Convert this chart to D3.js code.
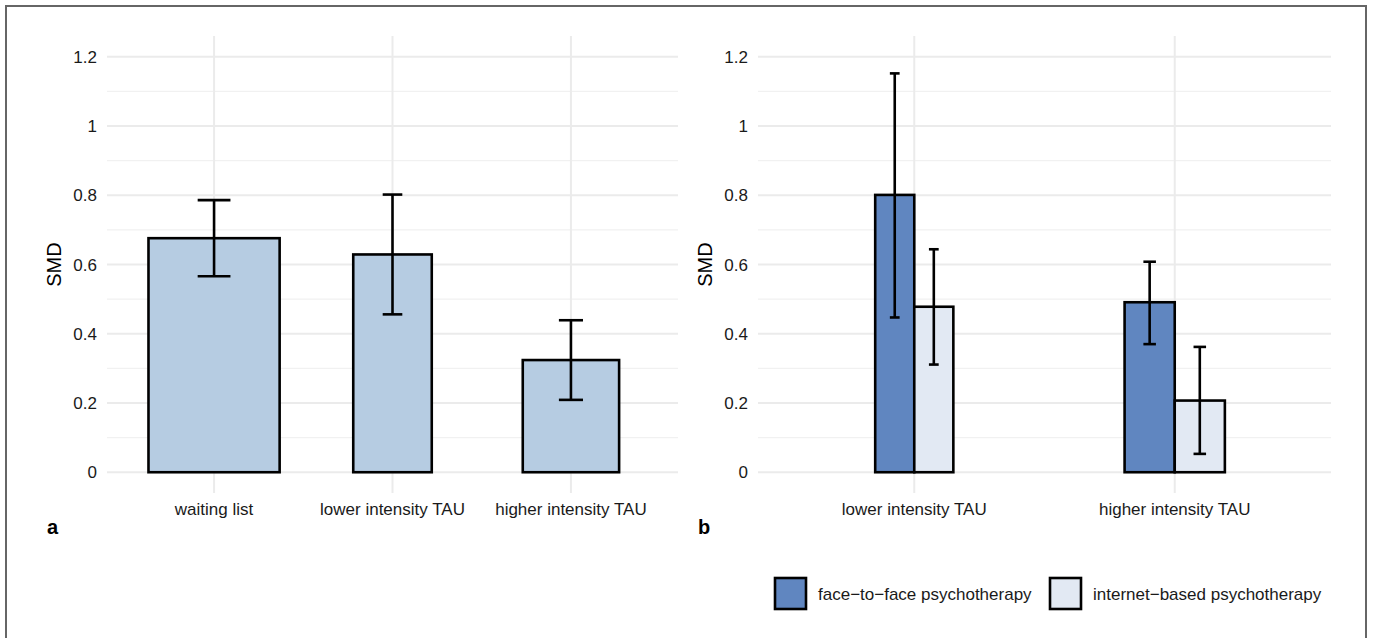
<!DOCTYPE html>
<html>
<head>
  <meta charset="utf-8">
  <title>SMD by comparison</title>
  <script src="https://d3js.org/d3.v7.min.js"></script>
  <style>
    body { margin: 0; background: #fff; }
    text { font-family: "Liberation Sans", Arial, sans-serif; }
    .tick-label { font-size: 17px; fill: #1a1a1a; }
    .axis-title { font-size: 20px; fill: #000; }
    .panel-tag { font-size: 20px; font-weight: bold; fill: #000; }
    .grid-major { stroke: #ebebeb; stroke-width: 2; }
    .grid-minor { stroke: #f1f1f1; stroke-width: 1.2; }
  </style>
</head>
<body>
  <script>
    // Panel a data
    const categoriesA = ["waiting list", "lower intensity TAU", "higher intensity TAU"];
    const smdA   = [0.676, 0.629, 0.324];
    const lowerA = [0.566, 0.456, 0.209];
    const upperA = [0.786, 0.802, 0.439];
    const widthA = [0.735, 0.44, 0.54];   // relative bar widths

    // Panel b data
    const categoriesB = ["lower intensity TAU", "higher intensity TAU"];
    const seriesB = ["face\u2212to\u2212face psychotherapy", "internet\u2212based psychotherapy"];
    const smdFace     = [0.801, 0.491];
    const lowerFace   = [0.447, 0.370];
    const upperFace   = [1.152, 0.608];
    const smdInternet   = [0.478, 0.207];
    const lowerInternet = [0.311, 0.053];
    const upperInternet = [0.644, 0.362];
    const widthB = [0.30, 0.385];          // relative group widths

    const yTicks = [0, 0.2, 0.4, 0.6, 0.8, 1, 1.2];
    const yMinor = [0.1, 0.3, 0.5, 0.7, 0.9, 1.1];

    const colorA = "#b6cce2";
    const colorFace = "#6086c0";
    const colorInternet = "#e2e9f3";

    const width = 1373, height = 638;
    const svg = d3.select("body").append("svg")
        .attr("width", width)
        .attr("height", height);

    // outer frame (bottom edge runs off the image)
    svg.append("rect")
        .attr("x", 6).attr("y", 6)
        .attr("width", 1360).attr("height", 700)
        .attr("fill", "none")
        .attr("stroke", "#666")
        .attr("stroke-width", 2);

    const y = d3.scaleLinear().domain([-0.06, 1.26]).range([493, 36]);

    function drawPanel(x0, x1, cats) {
      const g = svg.append("g");
      const x = d3.scalePoint().domain(cats).range([x0, x1]).padding(0.6);

      g.selectAll(".grid-minor").data(yMinor).join("line")
          .attr("class", "grid-minor")
          .attr("x1", x0).attr("x2", x1)
          .attr("y1", d => y(d)).attr("y2", d => y(d));
      g.selectAll(".grid-major.h").data(yTicks).join("line")
          .attr("class", "grid-major h")
          .attr("x1", x0).attr("x2", x1)
          .attr("y1", d => y(d)).attr("y2", d => y(d));
      g.selectAll(".grid-major.v").data(cats).join("line")
          .attr("class", "grid-major v")
          .attr("x1", d => x(d)).attr("x2", d => x(d))
          .attr("y1", y.range()[1]).attr("y2", y.range()[0]);

      g.selectAll(".ytick").data(yTicks).join("text")
          .attr("class", "tick-label ytick")
          .attr("x", x0 - 10)
          .attr("y", d => y(d))
          .attr("dy", "0.36em")
          .attr("text-anchor", "end")
          .text(d => d3.format("~g")(d));

      g.selectAll(".xtick").data(cats).join("text")
          .attr("class", "tick-label xtick")
          .attr("x", d => x(d))
          .attr("y", 515)
          .attr("text-anchor", "middle")
          .text(d => d);

      g.append("text")
          .attr("class", "axis-title")
          .attr("transform", `translate(${x0 - 46},${(y(0) + y(1.2)) / 2}) rotate(-90)`)
          .attr("text-anchor", "middle")
          .text("SMD");

      return { g, x };
    }

    function drawErr(g, cx, lo, hi, capW) {
      g.append("line")
          .attr("x1", cx).attr("x2", cx)
          .attr("y1", y(lo)).attr("y2", y(hi))
          .attr("stroke", "#000").attr("stroke-width", 2.6);
      [lo, hi].forEach(v => {
        g.append("line")
            .attr("x1", cx - capW / 2).attr("x2", cx + capW / 2)
            .attr("y1", y(v)).attr("y2", y(v))
            .attr("stroke", "#000").attr("stroke-width", 2.6);
      });
    }

    // Panel a
    const pa = drawPanel(107, 678, categoriesA);
    const stepA = pa.x.step();
    categoriesA.forEach((c, i) => {
      const w = widthA[i] * stepA;
      const cx = pa.x(c);
      pa.g.append("rect")
          .attr("x", cx - w / 2).attr("y", y(smdA[i]))
          .attr("width", w).attr("height", y(0) - y(smdA[i]))
          .attr("fill", colorA)
          .attr("stroke", "#000").attr("stroke-width", 2.6);
      drawErr(pa.g, cx, lowerA[i], upperA[i], w * 0.25);
    });

    // Panel b
    const pb = drawPanel(758, 1331, categoriesB);
    const stepB = pb.x.step();
    const seriesVals = [
      { smd: smdFace, lo: lowerFace, hi: upperFace, color: colorFace },
      { smd: smdInternet, lo: lowerInternet, hi: upperInternet, color: colorInternet }
    ];
    categoriesB.forEach((c, i) => {
      const gw = widthB[i] * stepB;
      const bw = gw / 2;
      const cx = pb.x(c);
      seriesVals.forEach((s, j) => {
        const left = cx - gw / 2 + j * bw;
        pb.g.append("rect")
            .attr("x", left).attr("y", y(s.smd[i]))
            .attr("width", bw).attr("height", y(0) - y(s.smd[i]))
            .attr("fill", s.color)
            .attr("stroke", "#000").attr("stroke-width", 2.6);
      });
      seriesVals.forEach((s, j) => {
        const left = cx - gw / 2 + j * bw;
        drawErr(pb.g, left + bw / 2, s.lo[i], s.hi[i], bw * 0.25);
      });
    });

    // panel tags
    svg.append("text").attr("class", "panel-tag").attr("x", 47).attr("y", 534).text("a");
    svg.append("text").attr("class", "panel-tag").attr("x", 698).attr("y", 534).text("b");

    // legend
    const legendX = [775, 1050];
    const legend = svg.append("g");
    seriesB.forEach((s, j) => {
      legend.append("rect")
          .attr("x", legendX[j]).attr("y", 578)
          .attr("width", 31).attr("height", 31)
          .attr("fill", seriesVals[j].color)
          .attr("stroke", "#000").attr("stroke-width", 2.6);
      legend.append("text")
          .attr("class", "tick-label")
          .attr("x", legendX[j] + 43)
          .attr("y", 593.5)
          .attr("dy", "0.36em")
          .text(s);
    });
  </script>
</body>
</html>
